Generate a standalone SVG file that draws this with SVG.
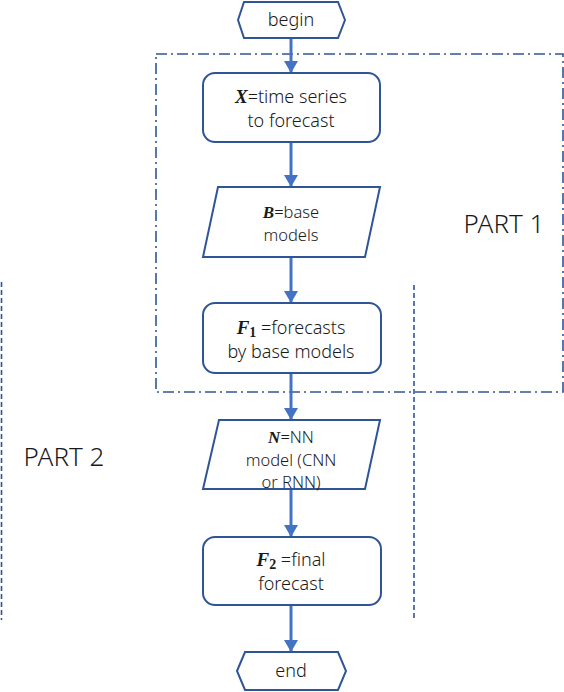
<svg xmlns="http://www.w3.org/2000/svg" width="564" height="692" viewBox="0 0 564 692">
<style>
.shape{fill:#fff;stroke:#2F5597;stroke-width:2}
.t{font-family:"Noto Sans","Open Sans","Liberation Sans",sans-serif;font-weight:300;fill:#1a1a1a;text-anchor:middle}
.m{font-family:"Liberation Serif","DejaVu Serif",serif;font-weight:bold;font-style:italic}
.s{font-family:"Liberation Serif","DejaVu Serif",serif;font-weight:bold}
.conn{stroke:#4472C4;stroke-width:3;fill:none}
.part{fill:none;stroke:#2F5597;stroke-width:1.6}
</style>
<defs>
<marker id="ah" markerUnits="userSpaceOnUse" markerWidth="14" markerHeight="14" viewBox="0 0 14 14" refX="12" refY="7" orient="auto">
<path d="M0,0 L12,7 L0,14 z" fill="#4472C4"/>
</marker>
</defs>
<rect width="564" height="692" fill="#fff"/>
<g id="part1">
<rect class="part" x="156" y="54" width="407" height="338" stroke-dasharray="11,4,2,4"/>
<text class="t" x="504" y="233" font-size="26">PART 1</text>
</g>
<g id="part2">
<line class="part" x1="1.5" y1="282" x2="1.5" y2="620" stroke-dasharray="5,3" stroke-width="2"/>
<line class="part" x1="414" y1="285" x2="414" y2="620" stroke-dasharray="5,3" stroke-width="2"/>
<text class="t" x="64" y="466" font-size="26">PART 2</text>
</g>
<g id="connectors">
<line class="conn" x1="291" y1="38" x2="291" y2="73" marker-end="url(#ah)"/>
<line class="conn" x1="291" y1="142" x2="291" y2="187" marker-end="url(#ah)"/>
<line class="conn" x1="291" y1="257" x2="291" y2="303" marker-end="url(#ah)"/>
<line class="conn" x1="291" y1="373" x2="291" y2="420" marker-end="url(#ah)"/>
<line class="conn" x1="291" y1="489" x2="291" y2="537" marker-end="url(#ah)"/>
<line class="conn" x1="291" y1="605" x2="291" y2="652" marker-end="url(#ah)"/>
</g>
<g id="begin">
<polygon class="shape" points="238,20 244,2 338,2 345,20 338,38 244,38"/>
<text class="t" x="291" y="26" font-size="18">begin</text>
</g>
<g id="X">
<rect class="shape" x="203" y="73" width="177" height="69" rx="12"/>
<text class="t" x="291" y="103" font-size="18"><tspan class="m" font-size="19">X</tspan>=time series</text>
<text class="t" x="291" y="127" font-size="18">to forecast</text>
</g>
<g id="B">
<polygon class="shape" points="218,187 380,187 365,257 203,257"/>
<text class="t" x="291" y="218" font-size="16.5"><tspan class="m" font-size="17">B</tspan>=base</text>
<text class="t" x="291" y="241" font-size="16.5">models</text>
</g>
<g id="F1">
<rect class="shape" x="203" y="303" width="178" height="70" rx="12"/>
<text class="t" x="291" y="334" font-size="18"><tspan class="m" font-size="19">F</tspan><tspan class="s" font-size="14" dy="3">1</tspan><tspan dy="-3"> =forecasts</tspan></text>
<text class="t" x="291" y="358" font-size="18">by base models</text>
</g>
<g id="N">
<polygon class="shape" points="219,420 380,420 365,489 203,489"/>
<text class="t" x="291" y="443" font-size="16.5"><tspan class="m" font-size="17">N</tspan>=NN</text>
<text class="t" x="291" y="466" font-size="16.5">model (CNN</text>
<text class="t" x="291" y="488" font-size="16.5">or RNN)</text>
</g>
<g id="F2">
<rect class="shape" x="203" y="537" width="178" height="68" rx="12"/>
<text class="t" x="291" y="566" font-size="18"><tspan class="m" font-size="19">F</tspan><tspan class="s" font-size="14" dy="3">2</tspan><tspan dy="-3"> =final</tspan></text>
<text class="t" x="291" y="590" font-size="18">forecast</text>
</g>
<g id="end">
<polygon class="shape" points="237,671 245,652 338,652 346,671 338,690 245,690"/>
<text class="t" x="291" y="677" font-size="18">end</text>
</g>
</svg>
